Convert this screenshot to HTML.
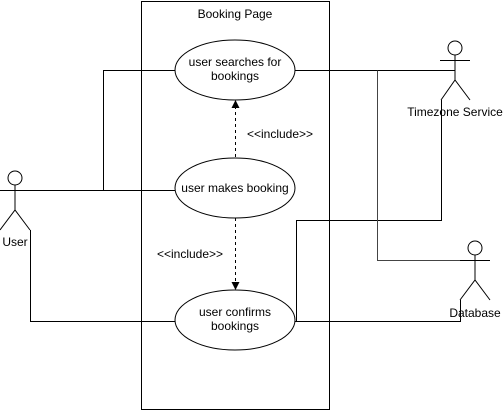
<!DOCTYPE html>
<html><head><style>body{margin:0;background:#fff}svg{display:block}text{font-family:"Liberation Sans",sans-serif;font-size:12px;fill:#000}</style></head><body>
<svg width="504" height="411" viewBox="0 0 504 411">
<g fill="none" stroke="#000" stroke-width="1">
<rect x="141.5" y="1.5" width="188" height="408"/>
<path d="M0 190.5H175M103.5 190.5V70.5H175M30.5 230V321.5H175"/>
<path d="M295 70.5H455M441.5 100V220.5H296.5V321M295 321.5H460.5V300"/>
<path d="M377.5 70.5V260.5H475" stroke="#444"/>
<ellipse cx="235" cy="70" rx="60" ry="30"/>
<ellipse cx="235" cy="188" rx="60" ry="30"/>
<ellipse cx="235" cy="320" rx="60" ry="30"/>
<path d="M235.5 157V106M235.5 218V283" stroke-dasharray="3 3"/>
<circle cx="15" cy="178" r="7"/><path d="M15 185V210M0 190.5H30M0 230L15 210L30 230"/>
<circle cx="455" cy="48" r="7"/><path d="M455 55V80M440 60.5H470M441 100L455 80L470 100"/>
<circle cx="475" cy="248" r="7"/><path d="M475 255V280M460 260.5H490M460 300L475 280L490 300"/>
</g>
<path d="M235.5 100L231.5 108L239.5 108Z M235.5 290L231.5 282L239.5 282Z"/>
<g text-anchor="middle">
<text x="235" y="18">Booking Page</text>
<text x="235" y="66">user searches for</text><text x="235" y="80">bookings</text>
<text x="235" y="192">user makes booking</text>
<text x="235" y="316">user confirms</text><text x="235" y="330">bookings</text>
<text x="280" y="138">&lt;&lt;include&gt;&gt;</text>
<text x="190" y="258">&lt;&lt;include&gt;&gt;</text>
<text x="15" y="246">User</text>
<text x="455" y="116">Timezone Service</text>
<text x="475" y="317">Database</text>
</g>
</svg></body></html>
